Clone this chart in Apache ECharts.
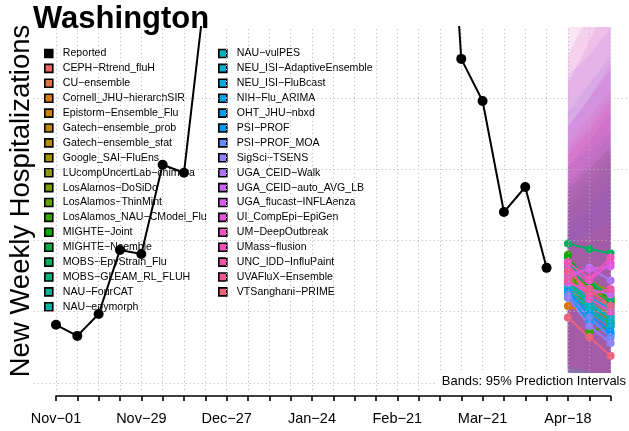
<!DOCTYPE html>
<html>
<head>
<meta charset="utf-8">
<script src="https://cdn.jsdelivr.net/npm/echarts@6/dist/echarts.min.js"></script>
<style>
html, body { margin: 0; padding: 0; background: #ffffff; }
#chart { width: 629px; height: 431px; }
</style>
</head>
<body>
<div id="chart"></div>
<script>
// Weekly reported hospitalizations, week 0 = Nov-01
const reportedWeeks = [0,1,2,3,4,5,6,7,8,9,10,11,12,13,14,15,16,17,18,19,20,21,22,23];
const reportedValues = [204,165,242,467,453,766,738,1380,1900,2500,2900,3100,3000,2800,2600,2500,2450,2400,2300,1138,990,600,688,404];

// Axis ticks (weekly) and labelled dates every four weeks
const tickLabelWeeks = [0,4,8,12,16,20,24];
const tickLabels = ['Nov\u221201','Nov\u221229','Dec\u221227','Jan\u221224','Feb\u221221','Mar\u221221','Apr\u221218'];
const gridValues = [0,250,500,750,1000];

// Forecast horizons (weeks ahead of the last report)
const horizonWeeks = [24,25,26];

const models = [
  'CEPH\u2212Rtrend_fluH','CU\u2212ensemble','Cornell_JHU\u2212hierarchSIR','Epistorm\u2212Ensemble_Flu',
  'Gatech\u2212ensemble_prob','Gatech\u2212ensemble_stat','Google_SAI\u2212FluEns','LUcompUncertLab\u2212chimera',
  'LosAlamos\u2212DoSiDo','LosAlamos\u2212ThinMint','LosAlamos_NAU\u2212CModel_Flu','MIGHTE\u2212Joint',
  'MIGHTE\u2212Nsemble','MOBS\u2212EpyStrain_Flu','MOBS\u2212GLEAM_RL_FLUH','NAU\u2212FourCAT','NAU\u2212epymorph',
  'NAU\u2212vulPES','NEU_ISI\u2212AdaptiveEnsemble','NEU_ISI\u2212FluBcast','NIH\u2212Flu_ARIMA','OHT_JHU\u2212nbxd',
  'PSI\u2212PROF','PSI\u2212PROF_MOA','SigSci\u2212TSENS','UGA_CEID\u2212Walk','UGA_CEID\u2212auto_AVG_LB',
  'UGA_flucast\u2212INFLAenza','UI_CompEpi\u2212EpiGen','UM\u2212DeepOutbreak','UMass\u2212flusion',
  'UNC_IDD\u2212InfluPaint','UVAFluX\u2212Ensemble','VTSanghani\u2212PRIME'
];

// Median forecasts per horizon (model order as above)
const medianH1 = [340,330,270,360,380,370,390,420,400,380,450,440,410,490,420,350,320,330,340,310,360,300,320,310,300,370,350,380,400,420,425,360,390,230];
const medianH2 = [300,280,240,300,330,320,340,360,280,260,180,350,330,470,360,290,270,260,280,250,300,220,240,230,200,405,330,400,360,295,365,310,330,160];
const medianH3 = [270,240,210,250,290,280,300,320,220,210,200,290,280,455,300,250,230,210,230,200,260,170,180,160,140,360,310,410,420,250,440,330,270,95];

// 95% prediction interval bounds per horizon
const lowerH1 = [40,35,20,45,50,45,55,60,30,25,60,55,45,80,50,30,25,20,30,15,40,10,20,10,5,40,30,50,55,55,60,35,40,0];
const lowerH2 = [25,20,10,30,35,30,40,45,15,10,20,40,30,65,35,20,15,10,15,5,25,0,10,0,0,30,20,40,40,35,45,20,25,0];
const lowerH3 = [10,5,0,15,20,15,25,30,0,0,5,25,15,50,20,5,0,0,0,0,10,0,0,0,0,15,5,25,25,15,30,5,10,0];
const upperH1 = [560,540,500,620,650,630,660,680,600,560,700,680,640,760,680,560,540,560,600,540,700,620,760,950,1080,900,820,1050,1150,900,1300,800,840,480];
const upperH2 = [620,600,560,690,720,700,730,750,660,620,760,750,700,820,750,620,600,620,670,600,780,700,850,1050,1150,1000,900,1200,1300,1000,1450,880,930,520];
const upperH3 = [690,660,620,770,800,780,810,830,730,690,820,830,770,880,830,690,660,690,740,660,870,790,950,1150,1250,1100,1000,1350,1450,1120,1620,980,1030,570];

// Palette hues for the models (HCL, chroma 100)
const modelHues = [15,25.6,36.2,46.8,57.4,67.9,78.5,89.1,99.7,110.3,120.9,131.5,142.1,152.6,163.2,173.8,184.4,195,205.6,216.2,226.8,237.4,247.9,258.5,269.1,279.7,290.3,300.9,311.5,322.1,332.6,343.2,353.8,364.4];

function hcl(h, c, l) {
  const hr = h * Math.PI / 180;
  const U = c * Math.cos(hr), V = c * Math.sin(hr);
  const Xn = 95.047, Yn = 100, Zn = 108.883;
  const den = Xn + 15 * Yn + 3 * Zn;
  const un = 4 * Xn / den, vn = 9 * Yn / den;
  const Y = l > 8 ? Yn * Math.pow((l + 16) / 116, 3) : Yn * l / 903.3;
  const u = U / (13 * l) + un, v = V / (13 * l) + vn;
  const X = 9 * Y * u / (4 * v);
  const Z = -X / 3 - 5 * Y + 3 * Y / v;
  const x = X / 100, y = Y / 100, z = Z / 100;
  const lin = [
    3.240479 * x - 1.537150 * y - 0.498535 * z,
    -0.969256 * x + 1.875992 * y + 0.041556 * z,
    0.055648 * x - 0.204043 * y + 1.057311 * z
  ];
  return '#' + lin.map(t => {
    let g = t <= 0.0031308 ? 12.92 * t : 1.055 * Math.pow(t, 1 / 2.4) - 0.055;
    g = Math.max(0, Math.min(1, g));
    return Math.round(g * 255).toString(16).padStart(2, '0');
  }).join('');
}
const modelColors = modelHues.map(h => hcl(h, 100, 60));
const bandColors = modelHues.map(h => hcl(h, 100, 55));

function withAlpha(hex, a) {
  const r = parseInt(hex.slice(1, 3), 16), g = parseInt(hex.slice(3, 5), 16), b = parseInt(hex.slice(5, 7), 16);
  return 'rgba(' + r + ',' + g + ',' + b + ',' + a + ')';
}

const FONT = 'Liberation Sans, Arial, Helvetica, sans-serif';
const gridLine = { type: [1, 3], color: '#b8b8b8', width: 1 };
const BAND_ALPHA = 0.13;

const chart = echarts.init(document.getElementById('chart'), null, { renderer: 'canvas' });

const series = [];

// dotted background grid
const allWeeks = [];
for (let k = 0; k <= 26; k++) allWeeks.push(k);
series.push({
  type: 'line', name: 'grid', data: [], z: 0, silent: true,
  markLine: {
    silent: true, symbol: ['none', 'none'], label: { show: false }, animation: false,
    lineStyle: gridLine,
    emphasis: { disabled: true },
    data: allWeeks.map(k => ({ xAxis: k })).concat(gridValues.map(v => ({ yAxis: v })))
  }
});

// prediction interval bands, one polygon series per model
models.forEach((m, i) => {
  const lows = [lowerH1[i], lowerH2[i], lowerH3[i]];
  const ups = [upperH1[i], upperH2[i], upperH3[i]];
  series.push({
    type: 'custom', name: m + ' interval', z: 1, clip: true, silent: true,
    data: horizonWeeks.map((w, h) => [w, lows[h], ups[h]]),
    encode: { x: 0, y: [1, 2] },
    renderItem: function (params, api) {
      if (params.dataIndex !== 0) return null;
      const pts = [];
      for (let h = 0; h < 3; h++) pts.push(api.coord([horizonWeeks[h], lows[h]]));
      for (let h = 2; h >= 0; h--) pts.push(api.coord([horizonWeeks[h], ups[h]]));
      return {
        type: 'polygon',
        shape: { points: pts },
        style: { fill: withAlpha(bandColors[i], BAND_ALPHA), lineWidth: 0 }
      };
    }
  });
});

// median forecast trajectories
models.forEach((m, i) => {
  series.push({
    type: 'line', name: m, z: 3,
    color: modelColors[i],
    data: horizonWeeks.map((w, h) => [w, [medianH1[i], medianH2[i], medianH3[i]][h]]),
    symbol: 'circle', symbolSize: 8, showSymbol: true,
    lineStyle: { width: 2, color: modelColors[i] },
    itemStyle: { color: modelColors[i] },
    emphasis: { disabled: true }
  });
});

// reported data
series.push({
  type: 'line', name: 'Reported', z: 5, clip: true,
  color: '#000',
  data: reportedWeeks.map((w, i) => [w, reportedValues[i]]),
  symbol: 'circle', symbolSize: 10,
  lineStyle: { width: 2, color: '#000' },
  itemStyle: { color: '#000' },
  emphasis: { disabled: true }
});

const legendCommon = {
  orient: 'vertical', icon: 'rect', itemWidth: 8, itemHeight: 8, itemGap: 3.9,
  selectedMode: false, z: 2, padding: 0,
  itemStyle: { borderColor: '#000', borderWidth: 1.6 },
  textStyle: { fontFamily: FONT, fontSize: 10.6, color: '#000', lineHeight: 10, padding: [0, 0, 0, 5] }
};

const option = {
  animation: false,
  backgroundColor: '#ffffff',
  title: {
    text: 'Washington', left: 33, top: 4, padding: 0,
    textStyle: { fontFamily: FONT, fontSize: 31, fontWeight: 'bold', color: '#000' }
  },
  legend: [
    Object.assign({}, legendCommon, { left: 44, top: 48, data: ['Reported'].concat(models.slice(0, 17)) }),
    Object.assign({}, legendCommon, { left: 218, top: 48, data: models.slice(17) })
  ],
  grid: [
    { left: 33.8, top: 27, width: 595.2, height: 363, containLabel: false },
    { left: 56, top: 395, width: 554.6, height: 1, containLabel: false }
  ],
  xAxis: [
    { type: 'value', gridIndex: 0, min: -1.04, max: 26.864, show: false, splitLine: { show: false } },
    {
      type: 'value', gridIndex: 1, min: 0, max: 26, interval: 1, position: 'bottom',
      axisLine: { show: true, onZero: false, lineStyle: { color: '#000', width: 1.6 } },
      axisTick: { show: true, inside: false, length: 5, lineStyle: { color: '#000', width: 1.6 } },
      splitLine: { show: false },
      axisLabel: {
        show: true, margin: 15, fontFamily: FONT, fontSize: 14.5, color: '#000',
        formatter: function (v) {
          const idx = tickLabelWeeks.indexOf(v);
          return idx >= 0 ? tickLabels[idx] : '';
        }
      }
    }
  ],
  yAxis: [
    { type: 'value', gridIndex: 0, min: -25, max: 1250, show: false, splitLine: { show: false } },
    { type: 'value', gridIndex: 1, min: 0, max: 1, show: false }
  ],
  graphic: [
    {
      type: 'text', x: 21, y: 201, rotation: Math.PI / 2, z: 10,
      style: { text: 'New Weekly Hospitalizations', fontFamily: FONT, fontSize: 27.5, fill: '#000', align: 'center', verticalAlign: 'middle' }
    },
    {
      type: 'text', right: 1, top: 373, z: 10,
      style: { text: 'Bands: 95% Prediction Intervals', fontFamily: FONT, fontSize: 13, fill: '#000', backgroundColor: '#ffffff', padding: [2, 2, 3, 4] }
    }
  ],
  series: series
};

chart.setOption(option);
</script>
</body>
</html>
